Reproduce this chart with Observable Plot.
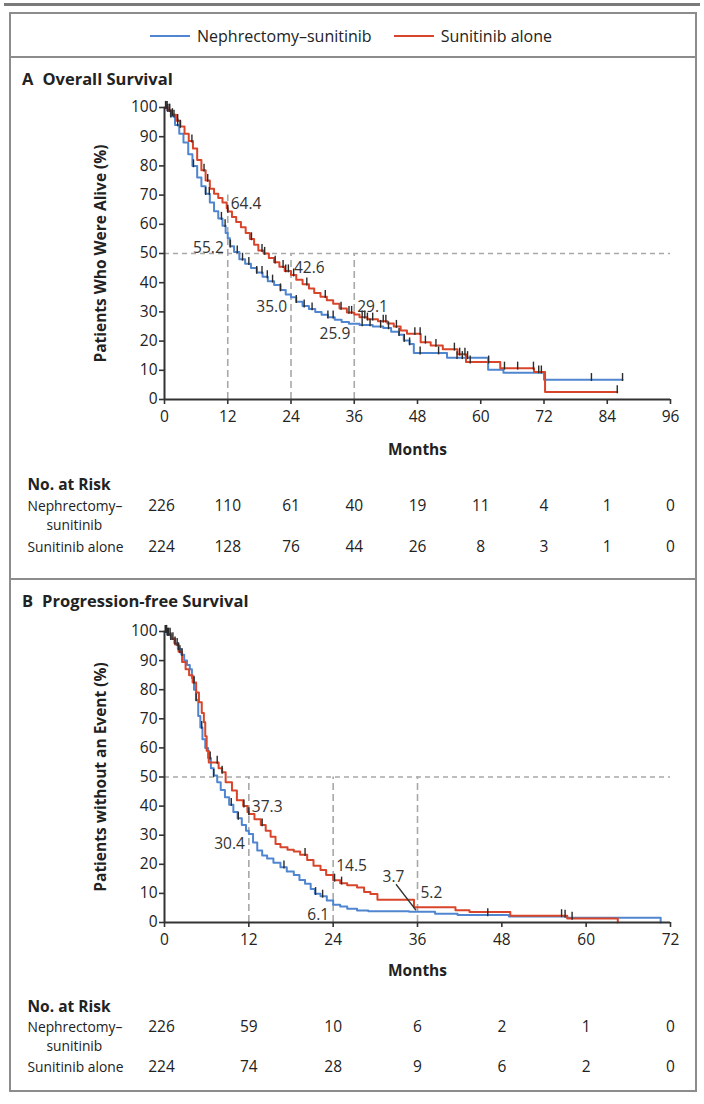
<!DOCTYPE html>
<html>
<head>
<meta charset="utf-8">
<script src="https://cdn.jsdelivr.net/npm/d3@7"></script>
<script src="https://cdn.jsdelivr.net/npm/@observablehq/plot@0.6"></script>
<style>
  body { margin: 0; background: #fff; }
  #page { position: relative; width: 704px; height: 1104px; font-family: "Open Sans", Lato, sans-serif; color: #222; overflow: hidden; }
  .bar { position: absolute; background: #8c8c8c; }
  .title { position: absolute; left: 22px; font-weight: bold; font-size: 16.5px; line-height: 20px; }
  .title span { margin-right: 9px; }
  #legend { position: absolute; top: 26px; left: 150px; font-size: 16px; line-height: 20px; display: flex; align-items: center; }
  #legend .item { display: flex; align-items: center; margin-right: 22px; }
  #legend .swatch { width: 40px; height: 2px; margin-right: 7px; }
  .chart { position: absolute; left: 0; }
</style>
</head>
<body>
<div id="page">
  <div class="bar" style="top:3px;left:4px;width:696px;height:3px;background:#7a7a7a"></div>
  <div class="bar" style="top:12px;left:9px;width:688px;height:2px"></div>
  <div class="bar" style="top:12px;left:9px;width:2px;height:1080px"></div>
  <div class="bar" style="top:12px;left:695px;width:2px;height:1080px"></div>
  <div class="bar" style="top:56px;left:9px;width:688px;height:2px"></div>
  <div class="bar" style="top:578px;left:9px;width:688px;height:2px"></div>
  <div class="bar" style="top:1090px;left:9px;width:688px;height:2px"></div>
  <div id="legend"></div>
  <div class="title" style="top:69px"><span>A</span>Overall Survival</div>
  <div class="title" style="top:591px"><span>B</span>Progression-free Survival</div>
  <div id="chartA" class="chart" style="top:88px"></div>
  <div id="chartB" class="chart" style="top:612px"></div>
</div>
<script>
// Arms
const armNames = ["Nephrectomy–sunitinib", "Sunitinib alone"];
const armColors = ["#4f86cf", "#d8452b"];
// Row labels of the number-at-risk tables (first one wraps onto an indented second line)
const riskLabels = [["Nephrectomy–", "sunitinib"], ["Sunitinib alone"]];

// Overall survival, Kaplan–Meier steps: [month, % alive]
const osNeph = [
  [0, 100], [0.5, 99], [1.2, 97], [2.0, 94], [2.8, 91], [3.6, 88], [4.5, 84], [5.3, 80],
  [6.2, 76], [7.0, 73], [7.8, 70.5], [8.6, 67.5], [9.4, 64.5], [10.2, 62], [11.0, 59.5],
  [11.6, 57], [12.0, 55.2], [12.4, 52.5], [13.2, 50.5], [14.2, 48], [15.3, 46.5], [16.4, 45],
  [17.5, 43.5], [18.6, 42], [19.6, 40.5], [20.8, 39.2], [22.0, 37.5], [23.0, 36], [24.0, 35.0],
  [25.0, 33.5], [26.2, 32], [27.4, 31], [28.6, 30], [29.8, 29], [31.0, 28.2], [32.3, 27.3],
  [33.6, 26.5], [35.0, 25.9], [37.0, 25.5], [39.5, 25.0], [41.5, 24.5], [43.0, 23.2],
  [44.5, 22.2], [45.4, 20.2], [46.5, 19.0], [47.3, 15.9], [53.6, 14.3], [61.4, 10.2],
  [64.3, 9.2], [72.0, 6.8], [86.9, 6.8]
];
const osSuni = [
  [0, 100], [0.6, 99], [1.4, 97.5], [2.2, 95.5], [3.0, 93.5], [3.8, 91], [4.6, 88.5],
  [5.4, 86], [6.2, 82], [7.0, 78.5], [7.8, 75], [8.6, 72.2], [9.4, 70.5], [10.2, 69],
  [11.0, 67.5], [11.8, 65.5], [12.0, 64.4], [12.8, 62.5], [13.6, 60.8], [14.5, 59],
  [15.4, 57], [16.2, 55], [17.0, 53], [17.8, 51], [18.8, 50], [19.8, 48.5], [20.8, 47],
  [21.8, 45.5], [22.8, 44], [24.0, 42.6], [25.0, 41], [26.2, 39.5], [27.4, 38], [28.4, 36.5],
  [29.6, 35.2], [30.8, 34], [32.0, 32.8], [33.2, 31.2], [34.6, 29.8], [36.0, 29.1],
  [37.0, 28.2], [38.5, 27.5], [40.5, 26.8], [42.3, 26.0], [43.5, 25], [44.8, 23.6],
  [46.0, 22.5], [48.6, 19.6], [50.5, 18.5], [52.8, 17.2], [55.6, 15.5], [57.2, 12.8],
  [63.7, 10.7], [70.1, 9.4], [72.2, 2.6], [85.9, 2.6]
];
// Censoring times (months)
const osNephCensor = [0.3, 0.6, 0.9, 1.2, 1.8, 2.5, 5.5, 7.8, 8.5, 10.8, 11.5, 12.5, 13.8, 14.8,
  16, 17.5, 18.5, 19.5, 20.5, 22, 25, 26.5, 28, 31, 32, 37.5, 39, 41, 42.5, 44.5, 45.5, 46.5,
  48.5, 52, 55.5, 56.5, 57.5, 81, 86.9];
const osSuniCensor = [0.2, 0.5, 1, 1.5, 2.5, 3, 5.2, 7.5, 8.2, 12.0, 16.5, 18.5, 19, 21, 22.5,
  23, 23.5, 24.5, 27, 30.5, 33.5, 35, 35.5, 37.5, 38, 38.5, 39.5, 41.5, 42, 44, 47.5, 48.5,
  49.5, 51.5, 55, 56, 57, 58, 61.5, 64.5, 67, 70, 71, 71.5, 85.9];

// Progression-free survival, Kaplan–Meier steps: [month, % without event]
const pfsNeph = [
  [0, 100], [0.4, 99], [0.9, 97.5], [1.4, 96], [1.9, 94], [2.4, 92], [2.8, 90], [3.2, 88.5],
  [3.6, 87], [3.9, 84], [4.2, 80], [4.5, 76.5], [4.8, 71], [5.1, 67], [5.4, 63], [5.8, 60],
  [6.2, 56.5], [6.6, 53], [7.0, 50.5], [7.5, 48.2], [8.0, 45.5], [8.6, 43], [9.2, 40.5],
  [9.8, 38], [10.4, 35.8], [11.0, 33.5], [11.6, 31.5], [12.0, 30.4], [12.6, 27.5],
  [13.2, 24.7], [13.9, 23], [14.6, 22], [15.5, 20.5], [16.5, 19], [17.4, 17.5], [18.4, 16.3],
  [19.2, 14.6], [20.0, 13.3], [20.8, 11.5], [21.4, 9.9], [22.2, 9.0], [23.1, 7.6], [24.0, 6.1],
  [25.0, 5.5], [26.0, 4.7], [27.4, 4.1], [29.0, 3.9], [34.8, 3.7], [38.5, 3.0], [41.7, 2.6],
  [49.0, 2.1], [57.3, 1.6], [70.6, 0]
];
const pfsSuni = [
  [0, 100], [0.5, 99], [1.0, 97.5], [1.5, 95.5], [2.0, 93], [2.5, 89.5], [3.0, 87], [3.5, 85],
  [4.0, 82.5], [4.5, 79], [4.9, 75.7], [5.3, 72], [5.6, 68.8], [5.8, 64], [6.0, 59], [6.3, 55],
  [7.7, 53], [8.2, 51.6], [8.7, 48.2], [9.6, 45.4], [10.3, 42], [11.2, 40], [11.8, 38],
  [12.0, 37.3], [12.8, 35.5], [13.7, 33.5], [14.4, 31.5], [15.1, 29.5], [15.8, 27],
  [16.5, 25.9], [17.5, 25], [18.4, 24.4], [19.3, 23.3], [20.3, 21.5], [21.2, 19.5],
  [22.2, 18], [23.0, 16.3], [24.0, 14.5], [25.0, 13.5], [26.0, 12.8], [27.4, 12.0],
  [28.4, 10.5], [29.3, 9.8], [30.3, 7.8], [35.5, 5.2], [41.4, 4.2], [43.4, 3.6], [49.2, 2.3],
  [57.3, 1.4], [64.5, 0]
];
const pfsNephCensor = [0.2, 0.4, 0.6, 0.9, 1.5, 2.0, 2.5, 4.5, 5.3, 6.5, 7.0, 9.5, 10.5, 17,
  21.5, 22.5, 46, 57];
const pfsSuniCensor = [0.1, 0.3, 0.5, 0.8, 1.2, 1.8, 2.2, 4.2, 7.5, 8.2, 11.3, 12.0, 13.9, 20.0,
  24.2, 25.2, 56.5, 58];

// Landmark months annotated on each panel
const osLandmarks = [12, 24, 36];
const pfsLandmarks = [12, 24, 36];

// Number at risk
const osRiskMonths = [0, 12, 24, 36, 48, 60, 72, 84, 96];
const osRiskNeph = [226, 110, 61, 40, 19, 11, 4, 1, 0];
const osRiskSuni = [224, 128, 76, 44, 26, 8, 3, 1, 0];
const pfsRiskMonths = [0, 12, 24, 36, 48, 60, 72];
const pfsRiskNeph = [226, 59, 10, 6, 2, 1, 0];
const pfsRiskSuni = [224, 74, 28, 9, 6, 2, 0];

const FONT = "'Open Sans', Lato, sans-serif";
const INK = "#222";
const FS = 15.5;     // tick, annotation and table numbers
const FS_ROW = 13.8; // row labels of the at-risk table

// value of a step curve at month t
function valueAt(curve, t) {
  let v = curve[0][1];
  for (const [m, s] of curve) { if (m <= t + 1e-9) v = s; else break; }
  return v;
}

// short vertical tick used for censored observations
const censorTick = {
  draw(ctx, size) {
    const r = Math.sqrt(size / Math.PI);
    ctx.moveTo(0, -2 * r);
    ctx.lineTo(0, 0.4 * r);
  }
};

function kmPanel({curves, censors, xMax, landmarks, guideTop, yLabel, risk, height, marginBottom, special}) {
  const lines = curves.flatMap((c, i) => c.map(([m, s]) => ({m, s, arm: armNames[i]})));
  const ticks = censors.flatMap((c, i) => c.map(m => ({m, s: valueAt(curves[i], m)})));
  const nephLabels = landmarks.map(m => ({m, s: valueAt(curves[0], m)}));
  const suniLabels = landmarks.map(m => ({m, s: valueAt(curves[1], m)}));
  const guides = landmarks.map((m, i) => ({m, top: guideTop[i]}));
  const xTicks = d3.range(0, xMax + 1, 12);

  const riskRow = (months, values) => months.map((m, i) => ({m, n: values[i]}));
  const r0 = riskRow(risk.months, risk.neph), r1 = riskRow(risk.months, risk.suni);
  const rowText = (rows, dy) => [
    Plot.text(rows.filter(d => d.m === 0), {x: "m", text: "n", frameAnchor: "bottom", dy, dx: -3, fontSize: FS, fill: INK}),
    Plot.text(rows.filter(d => d.m > 0), {x: "m", text: "n", frameAnchor: "bottom", dy, fontSize: FS, fill: INK})
  ];
  const rowLabel = (text, dx, dy, extra = {}) =>
    Plot.text([text], {frameAnchor: "bottom-left", dx, dy, textAnchor: "start", fontSize: FS_ROW, fill: INK, ...extra});

  const labelMarks = [];
  for (const d of nephLabels) {
    if (special && special.m === d.m) continue;
    labelMarks.push(Plot.text([d], {x: "m", y: "s", text: d => d.s.toFixed(1), textAnchor: "end", dx: -4, dy: 10, fill: "#333", fontSize: FS}));
  }
  for (const d of suniLabels) {
    labelMarks.push(Plot.text([d], {x: "m", y: "s", text: d => d.s.toFixed(1), textAnchor: "start", dx: 3, dy: d.s < 20 ? -14 : -7, fill: "#333", fontSize: FS}));
  }
  if (special) {
    const d = nephLabels.find(l => l.m === special.m);
    labelMarks.push(Plot.text([d], {x: "m", y: "s", text: d => d.s.toFixed(1), dx: -24, dy: -35, fill: "#333", fontSize: FS}));
    // leader from the label down to the point it names
    labelMarks.push((index, scales) => {
      const ns = "http://www.w3.org/2000/svg";
      const ln = document.createElementNS(ns, "line");
      const px = scales.x(d.m), py = scales.y(d.s);
      ln.setAttribute("x1", px - 21); ln.setAttribute("y1", py - 27);
      ln.setAttribute("x2", px - 1); ln.setAttribute("y2", py - 1);
      ln.setAttribute("stroke", "#333"); ln.setAttribute("stroke-width", 1.3);
      return ln;
    });
  }

  return Plot.plot({
    width: 704, height, marginLeft: 164, marginRight: 34, marginTop: 19, marginBottom,
    style: {fontFamily: FONT, fontSize: FS + "px", color: INK, background: "transparent"},
    x: {domain: [0, xMax]},
    y: {domain: [0, 100]},
    marks: [
      Plot.ruleY([50], {x1: 0, x2: xMax, stroke: "#a8a8a8", strokeWidth: 1.4, strokeDasharray: "5,4"}),
      Plot.ruleX(guides, {x: "m", y1: 0, y2: "top", stroke: "#a8a8a8", strokeWidth: 1.6, strokeDasharray: "7,4"}),
      Plot.line(lines, {x: "m", y: "s", z: "arm", stroke: "arm", curve: "step-after", strokeWidth: 2}),
      Plot.dot(ticks, {x: "m", y: "s", symbol: censorTick, r: 3.3, stroke: "#2a2a2a", strokeWidth: 1.4, fill: "none"}),
      ...labelMarks,
      Plot.axisX({ticks: xTicks, tickSize: 5, tickPadding: 6, tickFormat: d => d, label: null, stroke: "#333", strokeWidth: 1.6}),
      Plot.axisY({ticks: d3.range(0, 101, 10), tickSize: 5, tickPadding: 2, label: null, stroke: "#333", strokeWidth: 1.6}),
      Plot.ruleX([0], {y1: 0, y2: 100, stroke: "#333", strokeWidth: 2}),
      Plot.ruleY([0], {x1: 0, x2: xMax, stroke: "#333", strokeWidth: 2}),
      Plot.text(["Months"], {frameAnchor: "bottom", dy: risk.monthsDy, fontWeight: "bold", fontSize: FS, fill: INK}),
      Plot.text([yLabel], {frameAnchor: "left", textAnchor: "middle", rotate: -90, dx: -63, fontWeight: "bold", fontSize: FS, fill: INK}),
      rowLabel("No. at Risk", -137, risk.dy[0], {fontWeight: "bold", fontSize: FS}),
      rowLabel(riskLabels[0][0], -137, risk.dy[1]),
      rowLabel(riskLabels[0][1], -118, risk.dy[2]),
      rowLabel(riskLabels[1][0], -137, risk.dy[3]),
      ...rowText(r0, risk.dy[1]),
      ...rowText(r1, risk.dy[3])
    ],
    color: {domain: armNames, range: armColors}
  });
}

// legend
const legend = document.getElementById("legend");
armNames.forEach((name, i) => {
  const item = document.createElement("div");
  item.className = "item";
  const sw = document.createElement("div");
  sw.className = "swatch";
  sw.style.background = armColors[i];
  const label = document.createElement("span");
  label.textContent = name;
  item.append(sw, label);
  legend.append(item);
});

document.getElementById("chartA").append(kmPanel({
  curves: [osNeph, osSuni],
  censors: [osNephCensor, osSuniCensor],
  xMax: 96,
  landmarks: osLandmarks,
  guideTop: [70, 50, 50],
  yLabel: "Patients Who Were Alive (%)",
  risk: {months: osRiskMonths, neph: osRiskNeph, suni: osRiskSuni, dy: [90, 111, 130.5, 152], monthsDy: 55},
  height: 482, marginBottom: 171
}));

document.getElementById("chartB").append(kmPanel({
  curves: [pfsNeph, pfsSuni],
  censors: [pfsNephCensor, pfsSuniCensor],
  xMax: 72,
  landmarks: pfsLandmarks,
  guideTop: [50, 50, 50],
  yLabel: "Patients without an Event (%)",
  risk: {months: pfsRiskMonths, neph: pfsRiskNeph, suni: pfsRiskSuni, dy: [89, 109, 128.5, 149], monthsDy: 53},
  height: 473, marginBottom: 163,
  special: {m: 36}
}));
</script>
</body>
</html>
